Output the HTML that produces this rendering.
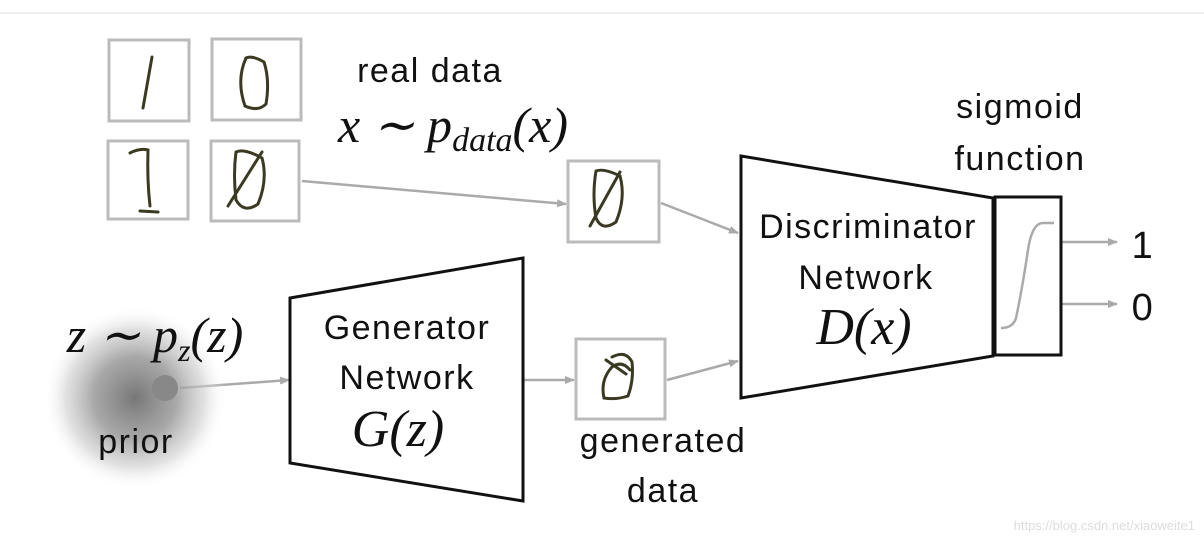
<!DOCTYPE html>
<html><head><meta charset="utf-8"><style>
html,body{margin:0;padding:0;background:#fff;}
svg{display:block}
.t{font-family:"Liberation Sans",sans-serif;fill:#111;letter-spacing:1.5px;}
.m{font-family:"Liberation Serif",serif;font-style:italic;fill:#111;}
</style></head><body>
<svg width="1204" height="544" viewBox="0 0 1204 544" xmlns="http://www.w3.org/2000/svg">
<defs>
<radialGradient id="g" cx="0.5" cy="0.5" r="0.5">
<stop offset="0" stop-color="#777"/><stop offset="0.45" stop-color="#999" stop-opacity="0.85"/><stop offset="0.75" stop-color="#ccc" stop-opacity="0.6"/><stop offset="1" stop-color="#fff" stop-opacity="0"/>
</radialGradient>
<marker id="a" markerWidth="10" markerHeight="8" refX="9" refY="4" orient="auto" markerUnits="userSpaceOnUse"><path d="M0,0 L10,4 L0,8z" fill="#aaa"/></marker>
</defs>
<line x1="0" y1="13" x2="1204" y2="13" stroke="#eee" stroke-width="2"/>
<g fill="none" stroke="#bbb" stroke-width="3">
<rect x="109" y="40" width="80" height="81"/>
<rect x="212" y="39" width="89" height="81"/>
<rect x="108" y="141" width="80" height="78"/>
<rect x="211" y="141" width="88" height="80"/>
<rect x="568" y="161" width="91" height="81"/>
<rect x="576" y="339" width="89" height="80"/>
</g>
<g fill="none" stroke="#3a3a22" stroke-width="3" stroke-linecap="round">
<path d="M152,57 L143,108"/>
<path d="M246,58 Q236,80 245,106 Q258,112 266,104 Q270,80 264,62 Q252,55 246,58z"/>
<path d="M130,153 Q140,148 148,150 Q147,180 150,206 M140,211 L158,212"/>
<path d="M236,152 Q244,148 262,158 Q268,180 258,204 Q244,214 236,200 Q233,175 236,152 M228,206 L262,152"/>
<path d="M596,171 Q604,168 620,176 Q626,198 616,222 Q602,232 596,218 Q592,195 596,171 M590,226 L620,172"/>
<path d="M612,357 Q626,350 632,362 Q634,380 628,396 Q616,400 604,398 Q600,380 612,367 Q622,360 630,370 M606,360 L626,374"/>
</g>
<g stroke="#aaa" stroke-width="2.5" fill="none" marker-end="url(#a)">
<line x1="302" y1="181" x2="566" y2="204"/>
<line x1="661" y1="203" x2="738" y2="233"/>
<line x1="180" y1="388" x2="289" y2="380"/>
<line x1="524" y1="380" x2="574" y2="380"/>
<line x1="667" y1="380" x2="738" y2="361"/>
<line x1="1062" y1="242" x2="1117" y2="242"/>
<line x1="1062" y1="304" x2="1117" y2="304"/>
</g>
<circle cx="135" cy="398" r="92" fill="url(#g)"/>
<circle cx="165" cy="388" r="13" fill="#888"/>
<text x="136" y="453" class="t" font-size="34" text-anchor="middle">prior</text>
<text x="155" y="352" class="m" font-size="50" text-anchor="middle">z ∼ p<tspan font-size="32" dy="9">z</tspan><tspan dy="-9">(z)</tspan></text>
<polygon points="290,298 523,258 523,501 290,463" fill="#fff" stroke="#111" stroke-width="3"/>
<text x="407" y="339" class="t" font-size="34" text-anchor="middle">Generator</text>
<text x="407" y="389" class="t" font-size="34" text-anchor="middle">Network</text>
<text x="398" y="446" class="m" font-size="52" text-anchor="middle">G(z)</text>
<text x="663" y="452" class="t" font-size="34" text-anchor="middle">generated</text>
<text x="663" y="502" class="t" font-size="34" text-anchor="middle">data</text>
<text x="430" y="82" class="t" font-size="34" text-anchor="middle">real data</text>
<text x="453" y="142" class="m" font-size="50" text-anchor="middle">x ∼ p<tspan font-size="34" dy="9">data</tspan><tspan dy="-9">(x)</tspan></text>
<polygon points="741,156 993,198 993,356 741,398" fill="#fff" stroke="#111" stroke-width="3"/>
<text x="868" y="238" class="t" font-size="34" text-anchor="middle">Discriminator</text>
<text x="866" y="289" class="t" font-size="34" text-anchor="middle">Network</text>
<text x="864" y="344" class="m" font-size="52" text-anchor="middle">D(x)</text>
<rect x="995" y="197" width="66" height="158" fill="#fff" stroke="#111" stroke-width="3"/>
<path d="M1001,328 Q1013,328 1016,318 Q1022,290 1028,250 Q1032,223 1043,223 L1054,223" fill="none" stroke="#aaa" stroke-width="2.5"/>
<text x="1020" y="118" class="t" font-size="34" text-anchor="middle">sigmoid</text>
<text x="1020" y="170" class="t" font-size="34" text-anchor="middle">function</text>
<text x="1143" y="258" class="t" font-size="38" text-anchor="middle">1</text>
<text x="1143" y="320" class="t" font-size="38" text-anchor="middle">0</text>
<text x="1195" y="530" font-family="Liberation Sans,sans-serif" font-size="13" fill="#ddd" text-anchor="end">https://blog.csdn.net/xiaoweite1</text>
</svg>
</body></html>
